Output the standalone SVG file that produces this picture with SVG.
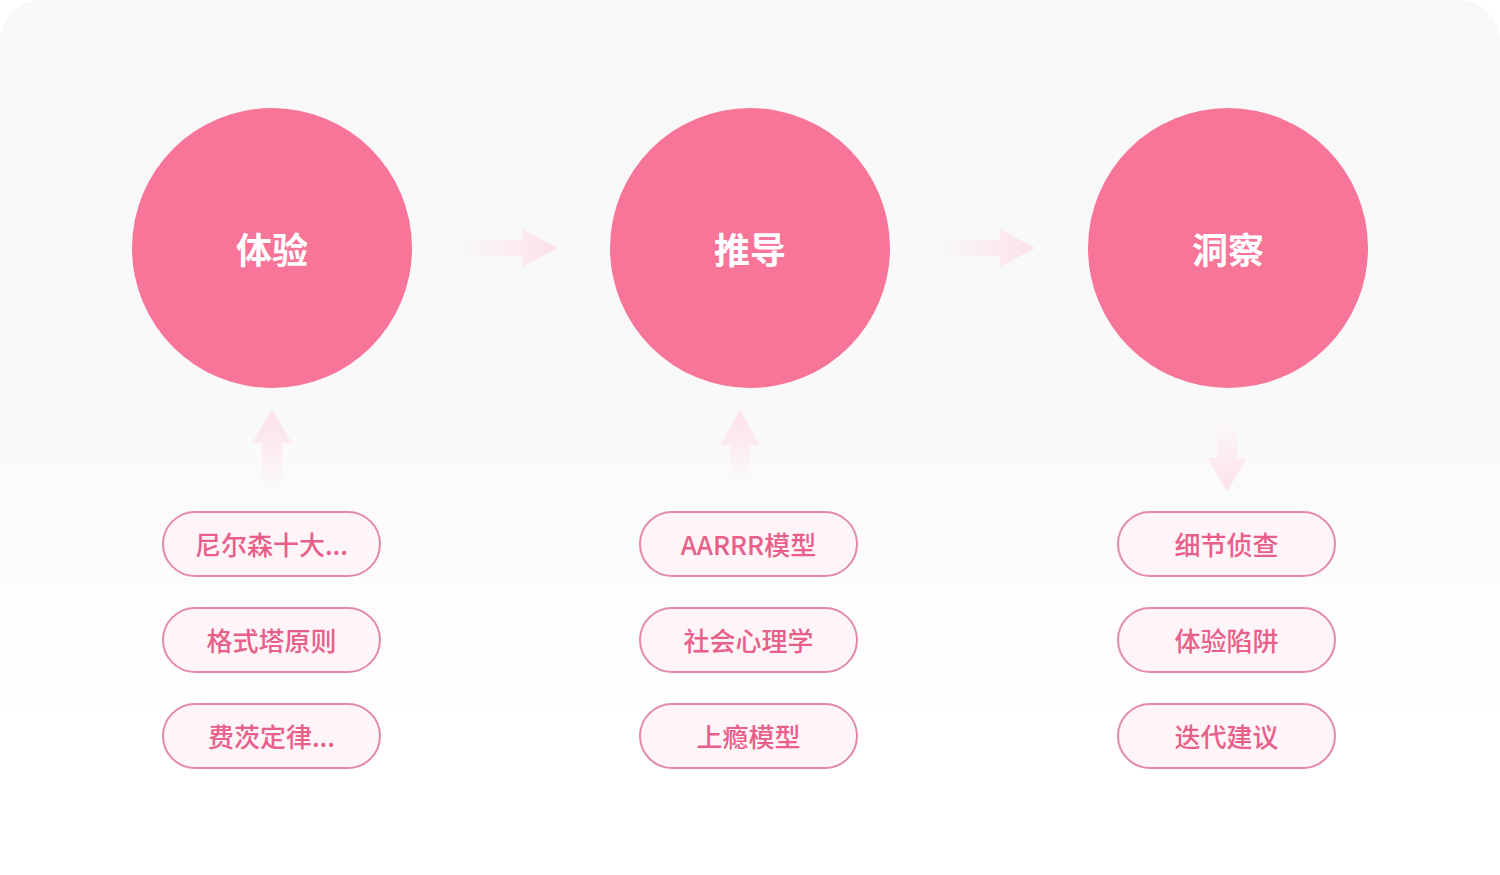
<svg xmlns="http://www.w3.org/2000/svg" width="1500" height="875" viewBox="0 0 1500 875">
<defs>
<linearGradient id="bg" x1="0" y1="0" x2="0" y2="1">
<stop offset="0" stop-color="#f8f8f9"/>
<stop offset="0.45" stop-color="#f9f9fa"/>
<stop offset="0.8" stop-color="#ffffff"/>
</linearGradient>
<linearGradient id="ah" x1="0" y1="0" x2="1" y2="0">
<stop offset="0" stop-color="#fde4ec" stop-opacity="0"/>
<stop offset="0.45" stop-color="#fde4ec" stop-opacity="0.5"/>
<stop offset="1" stop-color="#fde0e9"/>
</linearGradient>
<linearGradient id="au" x1="0" y1="1" x2="0" y2="0">
<stop offset="0" stop-color="#fde4ec" stop-opacity="0"/>
<stop offset="0.5" stop-color="#fde4ec" stop-opacity="0.6"/>
<stop offset="1" stop-color="#fde0e9"/>
</linearGradient>
<linearGradient id="ad" x1="0" y1="0" x2="0" y2="1">
<stop offset="0" stop-color="#fde4ec" stop-opacity="0"/>
<stop offset="0.5" stop-color="#fde4ec" stop-opacity="0.6"/>
<stop offset="1" stop-color="#fde0e9"/>
</linearGradient>
</defs>
<style>
.circle{fill:#f77598}
.ctext{fill:#ffffff;font-family:"Noto Sans CJK SC","Noto Sans",sans-serif;font-size:36px;font-weight:700;text-anchor:middle;dominant-baseline:central}
.pill{fill:#fff5f8;stroke:#e48aa6;stroke-width:2}
.ptext{fill:#e8608a;font-family:"Noto Sans CJK SC","Noto Sans",sans-serif;font-size:26px;font-weight:500;text-anchor:middle;dominant-baseline:central}
</style>
<rect x="0" y="0" width="1500" height="875" fill="#ffffff"/>
<rect x="0" y="0" width="1500" height="900" rx="42" fill="url(#bg)"/>
<g id="connectors">
<path d="M460 240 H522 V229 L557 248 L522 267 V256 H460 Z" fill="url(#ah)"/>
<path d="M938 240 H1000 V229 L1035 248 L1000 267 V256 H938 Z" fill="url(#ah)"/>
<path d="M262 490 V443 H252 L272 410 L292 443 H282 V490 Z" fill="url(#au)"/>
<path d="M730 480 V445 H720 L740 410 L760 445 H750 V480 Z" fill="url(#au)"/>
<path d="M1217 420 V458 H1207 L1227 491 L1247 458 H1237 V420 Z" fill="url(#ad)"/>
</g>
<g id="node-tiyan"><circle class="circle" cx="272" cy="248" r="140"/><text class="ctext" x="272" y="248">体验</text></g>
<g id="node-tuidao"><circle class="circle" cx="750" cy="248" r="140"/><text class="ctext" x="750" y="248">推导</text></g>
<g id="node-dongcha"><circle class="circle" cx="1228" cy="248" r="140"/><text class="ctext" x="1228" y="248">洞察</text></g>
<g id="pill-1-1"><rect class="pill" x="163" y="512" width="217" height="64" rx="32"/><text class="ptext" x="271.5" y="543">尼尔森十大...</text></g>
<g id="pill-1-2"><rect class="pill" x="163" y="608" width="217" height="64" rx="32"/><text class="ptext" x="271.5" y="639">格式塔原则</text></g>
<g id="pill-1-3"><rect class="pill" x="163" y="704" width="217" height="64" rx="32"/><text class="ptext" x="271.5" y="735">费茨定律...</text></g>
<g id="pill-2-1"><rect class="pill" x="640" y="512" width="217" height="64" rx="32"/><text class="ptext" x="748.5" y="543">AARRR模型</text></g>
<g id="pill-2-2"><rect class="pill" x="640" y="608" width="217" height="64" rx="32"/><text class="ptext" x="748.5" y="639">社会心理学</text></g>
<g id="pill-2-3"><rect class="pill" x="640" y="704" width="217" height="64" rx="32"/><text class="ptext" x="748.5" y="735">上瘾模型</text></g>
<g id="pill-3-1"><rect class="pill" x="1118" y="512" width="217" height="64" rx="32"/><text class="ptext" x="1226.5" y="543">细节侦查</text></g>
<g id="pill-3-2"><rect class="pill" x="1118" y="608" width="217" height="64" rx="32"/><text class="ptext" x="1226.5" y="639">体验陷阱</text></g>
<g id="pill-3-3"><rect class="pill" x="1118" y="704" width="217" height="64" rx="32"/><text class="ptext" x="1226.5" y="735">迭代建议</text></g>
</svg>
